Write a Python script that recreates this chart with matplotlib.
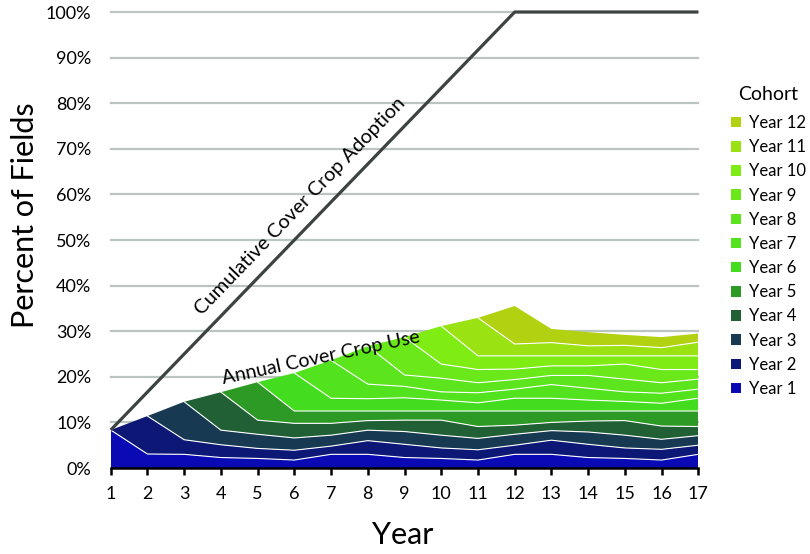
import numpy as np
import matplotlib.pyplot as plt
from matplotlib.patches import Patch

plt.rcParams['font.family'] = ['Lato', 'DejaVu Sans']

years = [1, 2, 3, 4, 5, 6, 7, 8, 9, 10, 11, 12, 13, 14, 15, 16, 17]
cumulative_adoption = [8.33, 16.67, 25.0, 33.33, 41.67, 50.0, 58.33, 66.67, 75.0,
                       83.33, 91.67, 100, 100, 100, 100, 100, 100]

# percent of fields with cover crop each year, per cohort, from its first year on
year1 = [8.33, 3.07, 3.0, 2.3, 2.1, 1.75, 3.0, 3.0, 2.3, 2.1, 1.75, 3.0, 3.0, 2.3, 2.1, 1.75, 3.0]
year2 = [8.33, 3.2, 2.8, 2.2, 2.15, 1.8, 3.0, 2.9, 2.3, 2.25, 2.0, 3.1, 2.9, 2.3, 2.35, 2.0]
year3 = [8.33, 3.2, 3.1, 2.7, 2.4, 2.3, 2.8, 2.8, 2.5, 2.4, 2.1, 2.7, 2.8, 2.2, 2.1]
year4 = [8.33, 3.1, 3.2, 2.6, 2.1, 2.5, 3.3, 2.6, 2.0, 1.8, 2.4, 3.2, 2.9, 2.0]
year5 = [8.33, 2.7, 2.7, 2.1, 2.0, 2.0, 3.4, 3.1, 2.5, 2.2, 2.1, 3.3, 3.4]
year6 = [8.33, 2.8, 2.7, 2.9, 2.4, 1.8, 2.8, 2.8, 2.4, 2.1, 1.7, 2.8]
year7 = [8.33, 3.2, 2.5, 1.8, 2.2, 2.0, 3.0, 2.6, 2.1, 2.2, 2.0]
year8 = [8.33, 2.5, 3.0, 2.2, 2.1, 2.0, 2.8, 2.8, 2.3, 2.2]
year9 = [8.33, 3.1, 2.9, 2.3, 2.1, 2.1, 3.3, 2.9, 2.1]
year10 = [8.33, 3.0, 2.9, 2.2, 2.2, 1.8, 3.0, 3.0]
year11 = [8.33, 2.6, 2.9, 2.2, 2.3, 1.8, 3.0]
year12 = [8.33, 3.0, 3.0, 2.3, 2.3, 1.9]

cohorts = [year1, year2, year3, year4, year5, year6, year7, year8, year9, year10, year11, year12]
cohort_labels = ['Year %d' % (i + 1) for i in range(12)]
colors = ['#0a0ab4', '#0d1876', '#173a52', '#216034', '#2e9a26', '#44dc1e',
          '#52e21e', '#5ce41c', '#6ae81a', '#7fed14', '#9ae212', '#b2d211']

# pad each cohort with zeros before it starts
stack = np.array([np.concatenate([np.zeros(len(years) - len(c)), c]) for c in cohorts])
tops = np.cumsum(stack, axis=0)

fig = plt.figure(figsize=(8.1, 5.54), dpi=100)
ax = fig.add_axes([0.1367, 0.1552, 0.7254, 0.8231])

for v in range(10, 101, 10):
    ax.axhline(v, color='#bcc4c2', lw=1.6, zorder=0, clip_on=False)

ax.stackplot(years, stack, colors=colors, linewidth=0, zorder=1)
for i in range(len(cohorts) - 1):
    ax.plot(years[i:], tops[i][i:], color='white', lw=0.8, zorder=2)

ax.plot(years, cumulative_adoption, color='#3d4340', lw=2.3, zorder=3,
        clip_on=False, solid_capstyle='butt')

ax.text(6.15, 57.5, 'Cumulative Cover Crop Adoption', rotation=46, fontsize=14.5,
        ha='center', va='center', rotation_mode='anchor')
ax.text(6.73, 24.3, 'Annual Cover Crop Use', rotation=12, fontsize=14,
        ha='center', va='center', rotation_mode='anchor')

ax.set_xlim(1, 17)
ax.set_ylim(0, 100)
ax.set_xticks(years)
ax.set_yticks(range(0, 101, 10))
ax.set_yticklabels(['%d%%' % v for v in range(0, 101, 10)])
for s in ['top', 'right', 'left']:
    ax.spines[s].set_visible(False)
ax.spines['bottom'].set_linewidth(1.8)
ax.spines['bottom'].set_zorder(4)
ax.tick_params(axis='x', length=5, width=1.8, pad=8, labelsize=13)
ax.tick_params(axis='y', length=0, pad=14, labelsize=13)

ax.set_xlabel('Year', fontsize=22, va='center')
ax.xaxis.set_label_coords(0.497, -0.147)
ax.set_ylabel('Percent of Fields', fontsize=22, va='center')
ax.yaxis.set_label_coords(-0.146, 0.555)

fig.text(768 / 810, 1 - 95 / 554, 'Cohort', fontsize=14, ha='center', va='center')
handles = [Patch(facecolor=c, edgecolor='none') for c in colors]
fig.legend(handles[::-1], cohort_labels[::-1], loc='upper left',
           bbox_to_anchor=(0.903, 1 - 115 / 554), frameon=False, fontsize=12,
           handlelength=0.6, handleheight=0.6, handletextpad=0.45, labelspacing=0.49,
           borderpad=0, borderaxespad=0)

plt.savefig('out.png', dpi=100)
plt.close(fig)
